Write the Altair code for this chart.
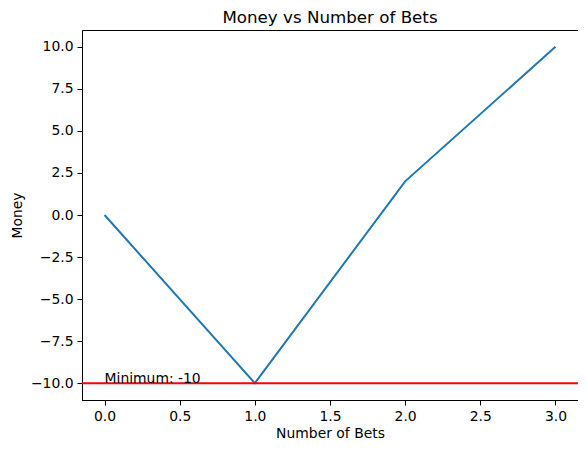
import altair as alt
import pandas as pd

bets = [0, 1, 2, 3]
money = [0, -10, 2, 10]
minimum = -10
min_label = "Minimum: -10"

df = pd.DataFrame({"bets": bets, "money": money})
df_min = pd.DataFrame({"y": [minimum]})
df_txt = pd.DataFrame({"x": [0], "y": [minimum], "t": [min_label]})

xscale = alt.Scale(domain=[-0.15, 3.15], nice=False, zero=False)
yscale = alt.Scale(domain=[-11, 11], nice=False, zero=False)

xaxis = alt.Axis(values=[0, 0.5, 1, 1.5, 2, 2.5, 3], format=".1f", title="Number of Bets",
                 labelPadding=4, titlePadding=4)
yaxis = alt.Axis(values=[-10, -7.5, -5, -2.5, 0, 2.5, 5, 7.5, 10], format=".1f", title="Money",
                 labelPadding=4, titlePadding=6)

line = alt.Chart(df).mark_line(color="#1f77b4", strokeWidth=2).encode(
    x=alt.X("bets:Q", scale=xscale, axis=xaxis),
    y=alt.Y("money:Q", scale=yscale, axis=yaxis),
)

rule = alt.Chart(df_min).mark_rule(color="#ff0000", strokeWidth=2).encode(
    y=alt.Y("y:Q", scale=yscale)
)

text = alt.Chart(df_txt).mark_text(align="left", baseline="alphabetic", fontSize=13.9,
                                    font="DejaVu Sans", color="black").encode(
    x=alt.X("x:Q", scale=xscale),
    y=alt.Y("y:Q", scale=yscale),
    text="t:N",
)

chart = alt.layer(line, rule, text).properties(
    width=496, height=370,
    title=alt.TitleParams("Money vs Number of Bets", fontSize=16.7, fontWeight="normal",
                          font="DejaVu Sans", color="black", offset=3),
    autosize=alt.AutoSizeParams(type="none"),
    padding={"left": 74, "top": 22, "right": 0, "bottom": 44},
).configure_axis(
    grid=False, domainColor="black", tickColor="black", tickSize=5, domainWidth=1,
    labelFont="DejaVu Sans", labelFontSize=13.9, labelColor="black",
    titleFont="DejaVu Sans", titleFontSize=13.9, titleFontWeight="normal", titleColor="black",
).configure_view(stroke="black", strokeWidth=1)

chart.save("out.html", embed_options={"renderer": "svg", "actions": False})
